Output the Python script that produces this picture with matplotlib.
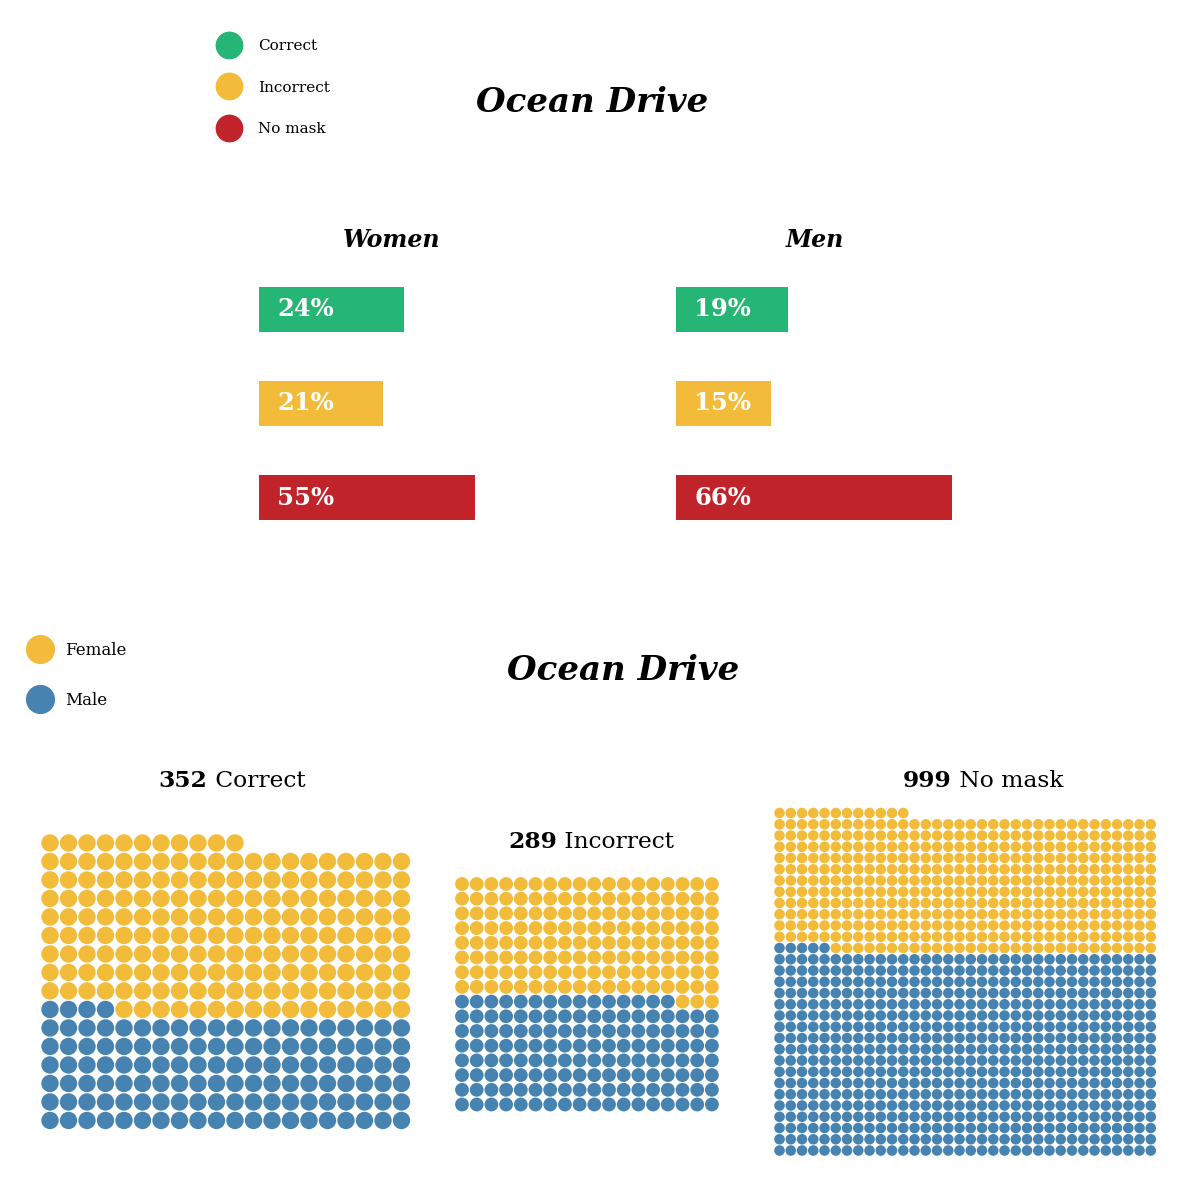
import matplotlib.pyplot as plt
from matplotlib.lines import Line2D
import numpy as np

plt.rcParams['font.family'] = 'DejaVu Serif'

# mask use by gender (% of each group)
mask_labels = ["Correct", "Incorrect", "No mask"]
women_pct = [24, 21, 55]
men_pct = [19, 15, 66]
# bar lengths as drawn in the chart (same units as the axis)
women_len = [24, 20.5, 35.8]
men_len = [18.5, 15.7, 45.8]

# waffle charts: totals in titles and dots per gender
waffle_names = ["Correct", "Incorrect", "No mask"]
waffle_totals = [352, 289, 999]
waffle_male = [124, 141, 617]
waffle_female = [187, 147, 415]
waffle_cols = [20, 18, 34]

green = "#25b574"
yellow = "#f2bc3a"
red = "#c1232b"
blue = "#4783b0"
bar_colors = [green, yellow, red]

W, H = 1200, 1200
fig = plt.figure(figsize=(12, 12), dpi=100)
fig.patch.set_facecolor("white")


def box(left, top, w, h):
    return fig.add_axes([left / W, 1 - (top + h) / H, w / W, h / H])


def ftext(x, y, s, **kw):
    return fig.text(x / W, 1 - y / H, s, **kw)


# ---- top part: bars ----
ftext(592, 102, "Ocean Drive", size=24.5, weight="bold", style="italic",
      ha="center", va="center")

for left, cx, name, lens, pcts in [(259, 392, "Women", women_len, women_pct),
                                   (676, 815, "Men", men_len, men_pct)]:
    ftext(cx, 240, name, size=17, weight="bold", style="italic",
          ha="center", va="center")
    ax = box(left, 262, 362, 283)
    y = np.arange(len(lens))
    ax.barh(y, lens, height=0.477, color=bar_colors)
    for yi, p in zip(y, pcts):
        ax.text(3, yi, f"{p}%", color="white", weight="bold", size=17.5,
                va="center", ha="left")
    ax.set_xlim(0, 60)
    ax.set_ylim(len(lens) - 0.5, -0.5)
    ax.axis("off")

h1 = [Line2D([], [], marker="o", ls="", ms=19, color=c) for c in bar_colors]
fig.legend(h1, mask_labels, loc="upper left", bbox_to_anchor=(218 / W, 1 - 39 / H),
           frameon=False, borderpad=0, borderaxespad=0, handlelength=1.4,
           handletextpad=1.23, labelspacing=1.81, fontsize=11)

# ---- bottom part: waffles ----
ftext(623, 670, "Ocean Drive", size=24.5, weight="bold", style="italic",
      ha="center", va="center")

h2 = [Line2D([], [], marker="o", ls="", ms=20, color=c) for c in [yellow, blue]]
fig.legend(h2, ["Female", "Male"], loc="upper left", bbox_to_anchor=(28 / W, 1 - 642 / H),
           frameon=False, borderpad=0, borderaxespad=0, handlelength=1.4,
           handletextpad=0.8, labelspacing=1.98, fontsize=12)

# axes boxes (px) and dot spacing for each waffle
waffle_boxes = [(40.75, 833.7, 18.5), (454.65, 876.65, 14.7), (773.9, 807.4, 11.25)]
title_pos = [(232, 781), (591, 842), (983, 781)]

renderer = fig.canvas.get_renderer()
for k in range(3):
    male, female, ncols = waffle_male[k], waffle_female[k], waffle_cols[k]
    total = male + female
    idx = np.arange(total)
    cols = idx % ncols
    rows = idx // ncols
    nrows = rows.max() + 1
    colors = [blue] * male + [yellow] * female
    left, top, sp = waffle_boxes[k]
    ax = box(left, top, ncols * sp, nrows * sp)
    d = sp * 0.94 * 72 / 100
    ax.scatter(cols, rows, s=d ** 2, c=colors, linewidths=0)
    ax.set_xlim(-0.5, ncols - 0.5)
    ax.set_ylim(-0.5, nrows - 0.5)
    ax.axis("off")

    # title: bold number + regular name, centred together
    cx, cy = title_pos[k]
    t1 = ftext(0, cy, str(waffle_totals[k]), size=16.8, weight="bold", va="center")
    t2 = ftext(0, cy, " " + waffle_names[k], size=16.8, va="center")
    w1 = t1.get_window_extent(renderer).width
    w2 = t2.get_window_extent(renderer).width
    x0 = cx - (w1 + w2) / 2
    t1.set_x(x0 / W)
    t2.set_x((x0 + w1) / W)

fig.savefig("out.png", dpi=100, facecolor="white")
